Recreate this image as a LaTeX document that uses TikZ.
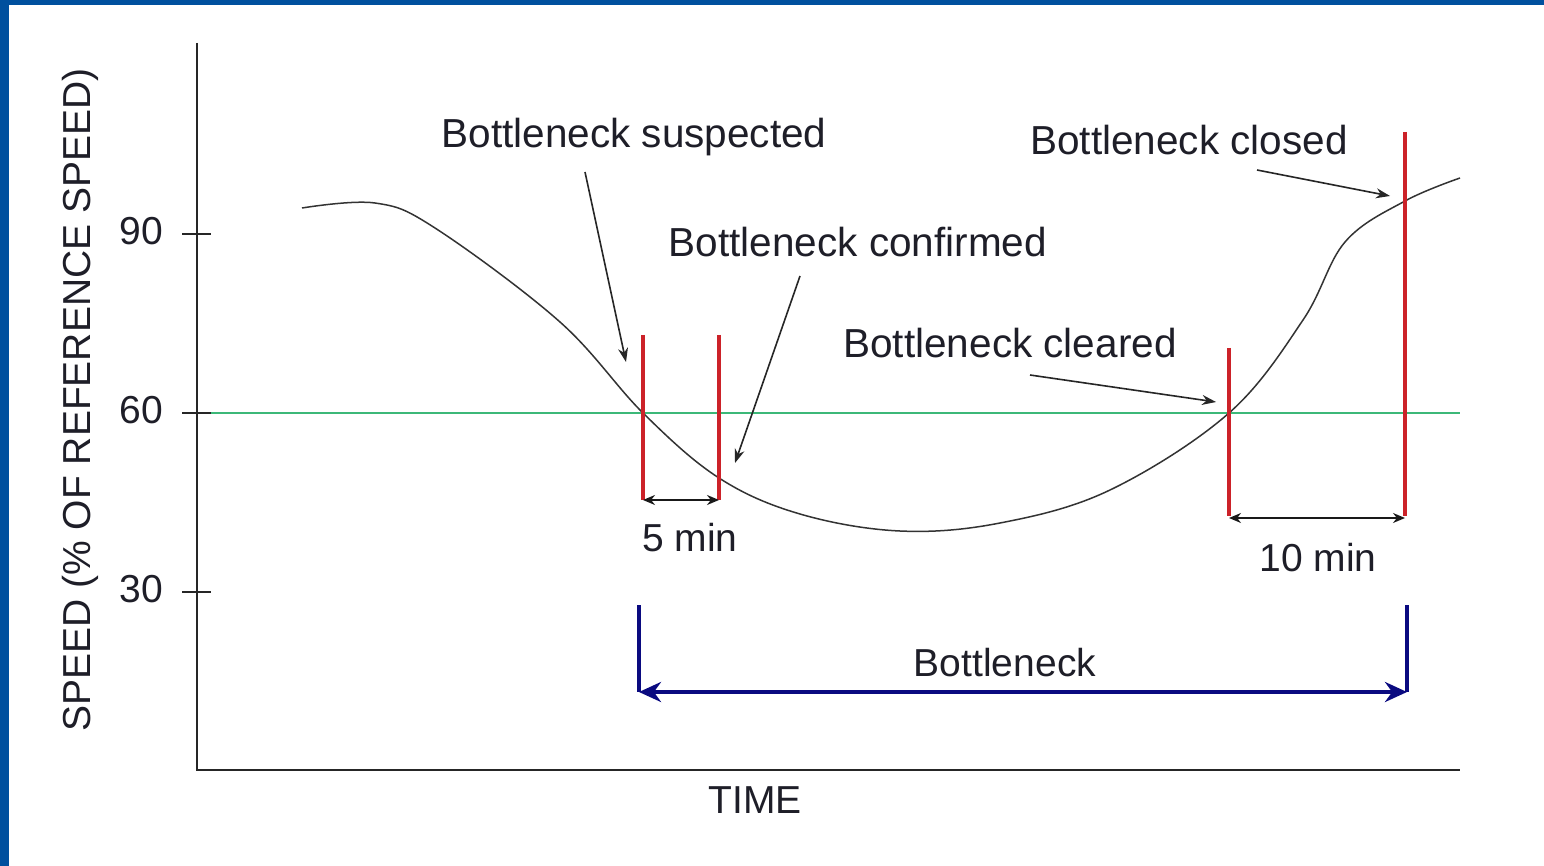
\documentclass[tikz,border=0pt]{standalone}
\usepackage{fontspec}
\setmainfont{Liberation Sans}
\usetikzlibrary{arrows.meta}
\definecolor{frameblue}{HTML}{00509E}
\definecolor{redline}{HTML}{CC2229}
\definecolor{greenline}{HTML}{3CB878}
\definecolor{navyline}{HTML}{0A0A80}
\definecolor{txt}{HTML}{1E1E28}
\begin{document}
\begin{tikzpicture}[x=1pt,y=-1pt,
  lbl/.style={inner sep=0pt,text=txt,font=\fontsize{39}{46}\selectfont},
  ann/.style={lbl,font=\fontsize{40.5}{46}\selectfont},
  axis/.style={line width=2pt,draw=black!85},
  redmark/.style={line width=3.5pt,draw=redline},
  curve/.style={line width=1.5pt,draw=black!80},
  pointer/.style={line width=1.6pt,draw=black!85,-{Stealth[length=14pt,width=10pt]}},
  dimarrow/.style={line width=1.6pt,draw=black!90,{Stealth[length=12pt,width=10pt]}-{Stealth[length=12pt,width=10pt]}},
  bracket/.style={line width=4.5pt,draw=navyline},
]
\useasboundingbox (0,0) rectangle (1544,866);
\fill[white] (0,0) rectangle (1544,866);
\fill[frameblue] (0,0) rectangle (9,866);
\fill[frameblue] (0,0) rectangle (1544,5);

% axes
\coordinate (ytop) at (197,43);
\coordinate (origin) at (197,770);
\coordinate (xend) at (1460,770);
\draw[axis] (ytop) -- (origin) -- (xend);
\coordinate (g0) at (197,413);
\coordinate (g1) at (1460,413);
\draw[greenline,line width=1.5pt] (g0) -- (g1);
\foreach \yy/\v in {234/90,413/60,592/30}{
  \draw[axis] (182,\yy) -- (211,\yy);
  \node[lbl,anchor=east] (t\v) at (163,\yy-3) {\v};
}
\node[lbl,rotate=90] (ylab) at (80,400) {SPEED (\% OF REFERENCE SPEED)};
\node[lbl] (time) at (755,800) {TIME};

% speed curve
\draw[curve] plot[smooth,tension=0.6] coordinates {
 (302,208) (375,203) (435,228) (560,322) (643,413)
 (719,478) (800,514) (900,531) (1000,523) (1110,490)
 (1229,413) (1303,320) (1345,242) (1405,201) (1460,178)};

% red markers
\coordinate (r1t) at (643,335); \coordinate (r1b) at (643,500);
\coordinate (r2t) at (719,335); \coordinate (r2b) at (719,500);
\coordinate (r3t) at (1229,348); \coordinate (r3b) at (1229,516);
\coordinate (r4t) at (1405,132); \coordinate (r4b) at (1405,516);
\draw[redmark] (r1t) -- (r1b);
\draw[redmark] (r2t) -- (r2b);
\draw[redmark] (r3t) -- (r3b);
\draw[redmark] (r4t) -- (r4b);

% dimension arrows
\draw[dimarrow] (r1b) -- (r2b);
\node[lbl] (five) at (690,538) {5 min};
\draw[dimarrow] (1229,518) -- (1405,518);
\node[lbl] (ten) at (1318,558) {10 min};

% bottleneck bracket
\coordinate (bl) at (639,605); \coordinate (blc) at (639,692);
\coordinate (br) at (1407,605); \coordinate (brc) at (1407,692);
\draw[bracket,line cap=butt] (bl) -- (blc);
\draw[bracket,line cap=butt] (br) -- (brc);
\draw[bracket,{Stealth[length=22pt,width=20pt]}-{Stealth[length=22pt,width=20pt]}] (blc) -- (brc);
\node[lbl] (bneck) at (1005,663) {Bottleneck};

% annotations
\node[ann] (sus) at (634,137) {Bottleneck suspected};
\node[ann] (conf) at (858,242) {Bottleneck confirmed};
\node[ann] (clr) at (1010,343) {Bottleneck cleared};
\node[ann] (clo) at (1189,140) {Bottleneck closed};
\coordinate (a1s) at (585,172); \coordinate (a1e) at (626,362);
\coordinate (a2s) at (800,276); \coordinate (a2e) at (735,463);
\coordinate (a3s) at (1030,375); \coordinate (a3e) at (1216,402);
\coordinate (a4s) at (1257,170); \coordinate (a4e) at (1390,196);
\draw[pointer] (a1s) -- (a1e);
\draw[pointer] (a2s) -- (a2e);
\draw[pointer] (a3s) -- (a3e);
\draw[pointer] (a4s) -- (a4e);
\end{tikzpicture}
\end{document}
